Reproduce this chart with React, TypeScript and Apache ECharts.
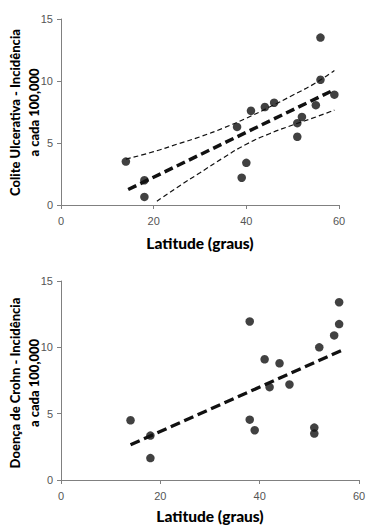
import React, { useEffect, useRef } from "react";
import * as echarts from "echarts";

// Colite Ulcerativa (top)
const ucLat = [14, 18, 18, 38, 39, 40, 41, 44, 46, 51, 51, 52, 55, 56, 56, 59];
const ucInc = [3.5, 2.0, 0.65, 6.3, 2.2, 3.4, 7.6, 7.9, 8.25, 6.6, 5.5, 7.1, 8.05, 10.1, 13.5, 8.9];
const ucFitX = [14.5, 59];
const ucFitY = [1.25, 9.3];
const ucUpperX = [14, 20, 25, 30, 35, 40, 45, 50, 55, 59];
const ucUpperY = [3.7, 4.3, 4.9, 5.5, 6.2, 7.0, 7.9, 8.85, 9.85, 10.85];
const ucLowerX = [20.7, 25, 30, 35, 40, 45, 50, 55, 59];
const ucLowerY = [0.3, 1.4, 2.6, 3.8, 4.9, 5.75, 6.45, 7.1, 7.65];

// Doença de Crohn (bottom)
const cdLat = [14, 18, 18, 38, 38, 39, 41, 42, 44, 46, 51, 51, 52, 55, 56, 56];
const cdInc = [4.5, 3.35, 1.65, 11.95, 4.55, 3.75, 9.1, 7.0, 8.8, 7.2, 3.95, 3.5, 10.0, 10.9, 13.4, 11.75];
const cdFitX = [14, 56.4];
const cdFitY = [2.65, 9.75];

const xTicks = [0, 20, 40, 60];
const yTicks = [0, 5, 10, 15];

const xTitle = "Latitude (graus)";
const ucTitle = "Colite Ulcerativa - Incidência\na cada 100,000";
const cdTitle = "Doença de Crohn - Incidência\na cada 100,000";

const zip = (xs: number[], ys: number[]) => xs.map((x, i) => [x, ys[i]]);

const TITLE_FONT = "Lato";
const axisColor = "#808080";
const labelColor = "#555";

function xAxis(gridIndex: number, nameGap: number) {
  return {
    type: "value",
    gridIndex,
    min: xTicks[0],
    max: xTicks[xTicks.length - 1],
    interval: 20,
    name: xTitle,
    nameLocation: "middle",
    nameGap,
    nameTextStyle: { fontFamily: TITLE_FONT, fontWeight: 900, fontSize: 15.5, color: "#000" },
    axisLine: { show: true, lineStyle: { color: axisColor, width: 1 } },
    axisTick: { show: true, length: 4, lineStyle: { color: axisColor } },
    axisLabel: { color: labelColor, fontSize: 11, fontFamily: "Liberation Sans", margin: 10 },
    splitLine: { show: false },
  };
}

function yAxis(gridIndex: number) {
  return {
    type: "value",
    gridIndex,
    min: yTicks[0],
    max: yTicks[yTicks.length - 1],
    interval: 5,
    axisLine: { show: true, lineStyle: { color: axisColor, width: 1 } },
    axisTick: { show: true, length: 4, lineStyle: { color: axisColor } },
    axisLabel: { color: labelColor, fontSize: 11, fontFamily: "Liberation Sans", margin: 8 },
    splitLine: { show: false },
  };
}

function yTitle(text: string, cx: number, cy: number) {
  return {
    type: "text",
    x: cx,
    y: cy,
    rotation: Math.PI / 2,
    style: {
      text,
      fill: "#000",
      fontFamily: TITLE_FONT,
      fontWeight: 900,
      fontSize: 13,
      lineHeight: 19,
      align: "center",
      verticalAlign: "middle",
    },
  };
}

export default function App() {
  const ref = useRef<HTMLDivElement>(null);
  useEffect(() => {
    if (!ref.current) return;
    const chart = echarts.init(ref.current, undefined, { renderer: "svg" });
    const dot = { color: "#111" };
    chart.setOption({
      animation: false,
      backgroundColor: "#fff",
      grid: [
        { left: 61, top: 19, width: 278, height: 186, outerBoundsMode: "none", containLabel: false },
        { left: 61, top: 281, width: 298, height: 199, outerBoundsMode: "none", containLabel: false },
      ],
      xAxis: [xAxis(0, 30), xAxis(1, 28)],
      yAxis: [yAxis(0), yAxis(1)],
      graphic: [yTitle(ucTitle, 24, 112.5), yTitle(cdTitle, 24, 383)],
      series: [
        {
          type: "line", xAxisIndex: 0, yAxisIndex: 0, data: zip(ucUpperX, ucUpperY),
          smooth: true, showSymbol: false, symbol: "none",
          lineStyle: { color: "#111", width: 1.2, type: [5, 3] },
        },
        {
          type: "line", xAxisIndex: 0, yAxisIndex: 0, data: zip(ucLowerX, ucLowerY),
          smooth: true, showSymbol: false, symbol: "none",
          lineStyle: { color: "#111", width: 1.2, type: [5, 3] },
        },
        {
          type: "line", xAxisIndex: 0, yAxisIndex: 0, data: zip(ucFitX, ucFitY),
          showSymbol: false, symbol: "none",
          lineStyle: { color: "#111", width: 3.5, type: [9, 4.5] },
        },
        {
          type: "scatter", xAxisIndex: 0, yAxisIndex: 0, data: zip(ucLat, ucInc),
          symbolSize: 8.5, itemStyle: dot,
        },
        {
          type: "line", xAxisIndex: 1, yAxisIndex: 1, data: zip(cdFitX, cdFitY),
          showSymbol: false, symbol: "none",
          lineStyle: { color: "#111", width: 3.3, type: [10, 4.7] },
        },
        {
          type: "scatter", xAxisIndex: 1, yAxisIndex: 1, data: zip(cdLat, cdInc),
          symbolSize: 8.5, itemStyle: dot,
        },
      ],
    });
    return () => chart.dispose();
  }, []);
  return (
    <div
      ref={ref}
      style={{ position: "fixed", left: 0, top: 0, width: 368, height: 529, background: "#fff" }}
    />
  );
}
